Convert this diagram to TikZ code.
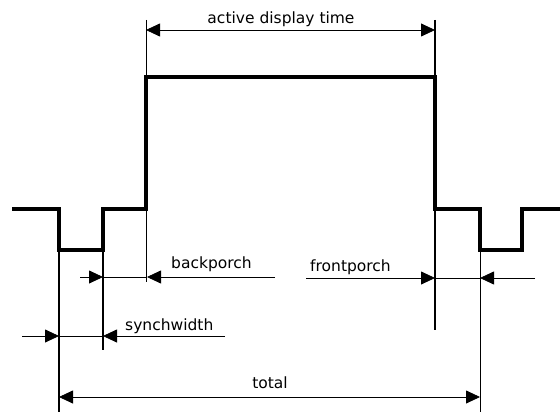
\documentclass[tikz,border=0pt]{standalone}
\usepackage{fontspec}
\setmainfont{DejaVu Sans}
\usetikzlibrary{arrows.meta}
\tikzset{
  sig/.style={line width=4pt, line join=miter},
  guide/.style={line width=1pt},
  dimline/.style={line width=0.8pt},
  dim/.style={dimline, -{Triangle[length=14pt,width=13pt]}},
  dimboth/.style={dimline, {Triangle[length=14pt,width=13pt]}-{Triangle[length=14pt,width=13pt]}},
  lbl/.style={inner sep=0pt, font=\fontsize{15.5}{18}\selectfont}
}
\begin{document}
\begin{tikzpicture}[x=1pt, y=-1pt]
\useasboundingbox (0,0) rectangle (560,412);
% the sync signal
\draw[sig] (12,209) -- (59,209) -- (59,250) -- (103,250) -- (103,209) -- (146,209) -- (146,77)
  -- (435,77) -- (435,209) -- (480,209) -- (480,250) -- (522,250) -- (522,209) -- (560,209);

\coordinate (adtop) at (146,20);
\coordinate (adbot) at (146,282);
\coordinate (fptop) at (435,20);
\coordinate (fpbot) at (435,330);
\coordinate (swtop) at (59,250);
\coordinate (swbot) at (59,412);
\coordinate (bptop) at (103,250);
\coordinate (bpbot) at (103,350);
\coordinate (tttop) at (480,250);
\coordinate (ttbot) at (480,412);
\draw[guide] (adtop) -- (adbot);
\draw[guide, line width=1.6pt] (fptop) -- (fpbot);
\draw[guide, line width=1.6pt] (swtop) -- (swbot);
\draw[guide, line width=1.6pt] (bptop) -- (bpbot);
\draw[guide] (tttop) -- (ttbot);

% active display time
\coordinate (ad0) at (146,30);
\coordinate (ad1) at (435,30);
\draw[dimboth] (ad0) -- (ad1);
\node[lbl, anchor=base] (adtxt) at (281,24) {active display time};

% backporch
\coordinate (bp0) at (80,277);
\coordinate (bp1) at (103,277);
\coordinate (bp2) at (275,277);
\coordinate (bp3) at (147,277);
\draw[dim] (bp0) -- (bp1);
\draw[dimline] (bp1) -- (bp3);
\draw[dim] (bp2) -- (bp3);
\node[lbl, anchor=base west] (bptxt) at (171,268) {backporch};

% frontporch
\coordinate (fp0) at (306,278);
\coordinate (fp1) at (435,278);
\coordinate (fp2) at (535,278);
\coordinate (fp3) at (480,278);
\draw[dim] (fp0) -- (fp1);
\draw[dimline] (fp1) -- (fp3);
\draw[dim] (fp2) -- (fp3);
\node[lbl, anchor=base west] (fptxt) at (310,271) {frontporch};

% synchwidth
\coordinate (sw0) at (22,336);
\coordinate (sw1) at (59,336);
\coordinate (sw2) at (225,336);
\coordinate (sw3) at (103,336);
\draw[dim] (sw0) -- (sw1);
\draw[dimline] (sw1) -- (sw3);
\draw[dim] (sw2) -- (sw3);
\node[lbl, anchor=base west] (swtxt) at (125,330) {synchwidth};

% total
\coordinate (tt0) at (59,397);
\coordinate (tt1) at (480,397);
\draw[dimboth] (tt0) -- (tt1);
\node[lbl, anchor=base] (tttxt) at (270,388) {total};

\end{tikzpicture}
\end{document}
